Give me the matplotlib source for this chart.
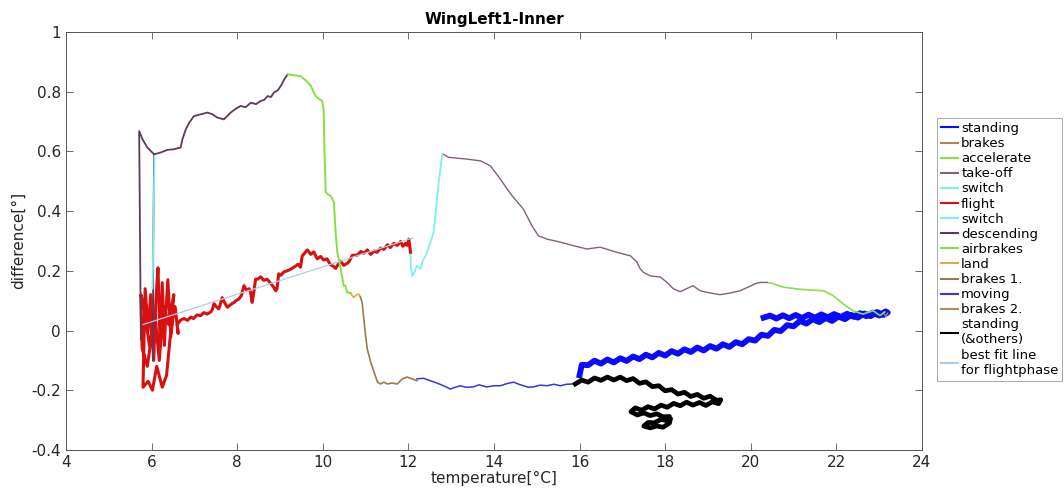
import numpy as np
import matplotlib
matplotlib.use('Agg')
import matplotlib.pyplot as plt

nan = np.nan

# phases in time order (temperature [°C], difference [°])
standing_x = [16.0, 16.05, 16.2, 16.35, 16.5, 16.65, 16.8, 16.95, 17.1, 17.25, 17.4, 17.55, 17.7, 17.85,
              18.0, 18.15, 18.3, 18.45, 18.6, 18.75, 18.9, 19.05, 19.2, 19.35, 19.5, 19.65, 19.8, 19.95,
              20.1, 20.25, 20.4, 20.55, 20.7, 20.85, 21.0, 21.15, 21.3, 21.45, 21.6, 21.75, 21.9, 22.05,
              22.2, 22.35, 22.5, 22.65, 22.8, 22.95, 23.1, 23.2, 23.15, 23.0, 22.85, 22.7, 22.55, 22.4,
              22.25, 22.1, 21.95, 21.8, 21.65, 21.5, 21.35, 21.2, 21.05, 20.9, 20.75, 20.6, 20.45, 20.3]
standing_y = [-0.15, -0.115, -0.116, -0.101, -0.111, -0.097, -0.107, -0.093, -0.102, -0.087, -0.096, -0.081,
              -0.09, -0.075, -0.084, -0.069, -0.078, -0.063, -0.072, -0.057, -0.067, -0.052, -0.061, -0.046,
              -0.055, -0.039, -0.046, -0.029, -0.034, -0.014, -0.018, 0.002, -0.002, 0.018, 0.014, 0.032,
              0.023, 0.038, 0.028, 0.042, 0.032, 0.047, 0.038, 0.052, 0.043, 0.057, 0.048, 0.062, 0.052, 0.06,
              0.064, 0.05, 0.06, 0.048, 0.058, 0.046, 0.056, 0.045, 0.055, 0.044, 0.054, 0.043, 0.053, 0.042,
              0.052, 0.041, 0.051, 0.04, 0.05, 0.043]

brakes_x = [23.2, 23.15, 23.1]
brakes_y = [0.058, 0.048, 0.06]

accelerate_x = [23.13, 23.02, 22.86, 22.62, 22.39, 22.16, 21.92, 21.7, 21.15, 20.76, 20.5, 20.38]
accelerate_y = [0.062, 0.05, 0.066, 0.055, 0.066, 0.089, 0.117, 0.133, 0.138, 0.145, 0.158, 0.161]

takeoff_x = [20.38, 20.22, 20.13, 19.98, 19.75, 19.5, 19.28, 18.97, 18.82, 18.65, 18.5, 18.35, 18.19, 18.05,
             17.89, 17.65, 17.49, 17.42, 17.34, 17.19, 16.87, 16.48, 16.17, 15.86, 15.55, 15.24, 15.04,
             14.89, 14.69, 14.39, 14.15, 13.92, 13.69, 13.37, 12.94, 12.82]
takeoff_y = [0.161, 0.161, 0.158, 0.148, 0.133, 0.125, 0.12, 0.128, 0.133, 0.15, 0.14, 0.13, 0.14, 0.16,
             0.179, 0.183, 0.195, 0.206, 0.229, 0.25, 0.262, 0.279, 0.273, 0.284, 0.296, 0.306, 0.317,
             0.35, 0.406, 0.457, 0.507, 0.551, 0.568, 0.574, 0.58, 0.59]

switch1_x = [12.79, 12.71, 12.63, 12.59, 12.52, 12.4, 12.34, 12.28, 12.2, 12.14, 12.09, 12.06, 12.05]
switch1_y = [0.59, 0.496, 0.384, 0.33, 0.296, 0.25, 0.235, 0.206, 0.217, 0.195, 0.183, 0.21, 0.262]

flight_x = [12.05, 12.01, 11.97, 11.93, 11.87, 11.82, 11.74, 11.66, 11.58, 11.51, 11.43, 11.35, 11.27, 11.2,
            11.12, 11.04, 10.96, 10.89, 10.8, 10.69, 10.62, 10.57, 10.49, 10.42, 10.38, 10.3, 10.24, 10.18,
            10.1, 10.02, 9.95, 9.87, 9.79, 9.72, 9.64, 9.57, 9.52, 9.48, 9.42, 9.37, 9.3, 9.25, 9.17, 9.09,
            9.02, 8.97, 8.93, 8.9, 8.84, 8.78, 8.7, 8.62, 8.55, 8.48, 8.43, 8.38, 8.35, 8.31, 8.28, 8.22,
            8.16, 8.1, 8.04, 7.97, 7.93, 7.86, 7.77, 7.7, 7.65, 7.6, 7.57, 7.5, 7.46, 7.42, 7.38, 7.3, 7.22,
            7.15, 7.06, 6.98, 6.92, 6.84, 6.76, 6.68,
            6.6, 6.62, 6.55, 6.5, 6.45, 6.38, 6.33, 6.3, 6.25, 6.2, 6.15, 6.1, 6.05, 5.98, 5.92, 5.85, 5.8,
            5.92, 6.02, 6.12, 6.25, 6.35, 6.45, 6.52, 6.4, 6.28, 6.18, 6.08, 5.95, 5.82, 5.75, 5.78, 5.9,
            6.0, 6.02]
flight_y = [0.262, 0.306, 0.285, 0.292, 0.282, 0.298, 0.285, 0.292, 0.278, 0.287, 0.272, 0.276, 0.262, 0.266,
            0.255, 0.27, 0.258, 0.265, 0.252, 0.252, 0.232, 0.225, 0.218, 0.232, 0.226, 0.208, 0.216, 0.22,
            0.24, 0.236, 0.248, 0.24, 0.263, 0.255, 0.27, 0.258, 0.25, 0.212, 0.222, 0.216, 0.21, 0.205, 0.2,
            0.196, 0.185, 0.19, 0.14, 0.133, 0.148, 0.158, 0.172, 0.168, 0.18, 0.172, 0.172, 0.12, 0.094,
            0.13, 0.14, 0.135, 0.15, 0.118, 0.105, 0.1, 0.094, 0.088, 0.078, 0.095, 0.11, 0.085, 0.072,
            0.082, 0.09, 0.07, 0.062, 0.055, 0.06, 0.05, 0.052, 0.04, 0.045, 0.034, 0.04, 0.035,
            0.02, -0.01, 0.08, 0.04, -0.02, 0.17, 0.05, -0.05, 0.16, -0.05, 0.21, 0.1, -0.1, 0.12, 0.0, 0.14,
            -0.19, -0.17, -0.2, -0.12, -0.19, -0.15, 0.0, 0.12, 0.02, 0.08, -0.1, 0.05, -0.05, 0.08, 0.12,
            -0.06, -0.12, -0.02, 0.1]

switch2_x = [6.02, 6.03, 6.04, 6.055, 6.07]
switch2_y = [0.14, 0.2, 0.3, 0.45, 0.585]

descending_x = [5.75, 5.71, 5.79, 5.9, 6.06, 6.04, 6.03, nan,
                6.06, 6.21, 6.37, 6.52, 6.68, 6.72, 6.8, 6.88, 6.99, 7.15, 7.31, 7.42, 7.54, 7.69, 7.85,
                7.96, 8.08, 8.2, 8.32, 8.44, 8.55, 8.63, 8.71, 8.79, 8.86, 8.95, 9.02, 9.1, 9.18]
descending_y = [-0.03, 0.668, 0.64, 0.613, 0.59, 0.3, -0.1, nan,
                0.59, 0.596, 0.605, 0.607, 0.613, 0.64, 0.674, 0.696, 0.718, 0.724, 0.73, 0.724, 0.713,
                0.707, 0.73, 0.742, 0.752, 0.748, 0.763, 0.758, 0.769, 0.772, 0.785, 0.782, 0.797, 0.805,
                0.819, 0.841, 0.858]

airbrakes_x = [9.18, 9.3, 9.48, 9.6, 9.72, 9.83, 9.92, 9.99, 10.02, 10.04, 10.07, 10.13, 10.19, 10.26,
               10.3, 10.34, 10.42, 10.49, 10.53, 10.57, 10.65]
airbrakes_y = [0.858, 0.855, 0.852, 0.838, 0.82, 0.785, 0.775, 0.768, 0.74, 0.6, 0.463, 0.455, 0.45, 0.43,
               0.33, 0.262, 0.206, 0.15, 0.15, 0.128, 0.125]

land_x = [10.65, 10.72, 10.8, 10.84, 10.88]
land_y = [0.125, 0.111, 0.12, 0.122, 0.112]

brakes1_x = [10.88, 10.92, 10.96, 11.0, 11.04, 11.12, 11.2, 11.28, 11.35, 11.43, 11.51, 11.62, 11.74,
             11.86, 11.97, 12.09, 12.2]
brakes1_y = [0.112, 0.094, 0.038, -0.017, -0.062, -0.106, -0.14, -0.173, -0.179, -0.173, -0.179, -0.176,
             -0.179, -0.162, -0.156, -0.162, -0.168]

moving_x = [12.2, 12.35, 12.51, 12.65, 12.82, 12.98, 13.1, 13.21, 13.35, 13.52, 13.65, 13.83, 14.0, 14.15,
            14.3, 14.46, 14.58, 14.69, 14.8, 14.92, 15.08, 15.24, 15.4, 15.55, 15.7, 15.86]
moving_y = [-0.162, -0.16, -0.168, -0.175, -0.185, -0.196, -0.19, -0.185, -0.19, -0.189, -0.182, -0.189,
            -0.185, -0.185, -0.178, -0.173, -0.18, -0.185, -0.19, -0.189, -0.183, -0.185, -0.18, -0.185,
            -0.18, -0.179]

brakes2_x = [15.86, 15.92, 15.98]
brakes2_y = [-0.179, -0.176, -0.178]

others_x = [15.9, 16.05, 16.2, 16.35, 16.5, 16.65, 16.8, 16.95, 17.1, 17.25, 17.4, 17.55, 17.7, 17.85,
            18.0, 18.15, 18.3, 18.45, 18.6, 18.75, 18.9, 19.05, 19.2, 19.3, 19.25,
            19.1, 18.95, 18.8, 18.65, 18.5, 18.35, 18.2, 18.05, 17.9, 17.75, 17.6, 17.45, 17.3, 17.2,
            17.35, 17.5, 17.65, 17.8, 17.95, 18.1, 18.05, 17.9, 17.75, 17.6, 17.5, 17.65, 17.8, 17.95,
            18.1, 18.12]
others_y = [-0.179, -0.166, -0.173, -0.159, -0.167, -0.156, -0.166, -0.156, -0.168, -0.161, -0.177, -0.172,
            -0.188, -0.185, -0.202, -0.198, -0.213, -0.207, -0.221, -0.214, -0.227, -0.22, -0.234, -0.232,
            -0.245, -0.239, -0.251, -0.241, -0.25, -0.24, -0.252, -0.244, -0.257, -0.25, -0.263, -0.255,
            -0.267, -0.259, -0.272, -0.283, -0.276, -0.285, -0.279, -0.289, -0.288, -0.302, -0.298, -0.309,
            -0.308, -0.32, -0.326, -0.32, -0.324, -0.31, -0.298]

fit_x = [5.8, 12.1]
fit_y = [0.02, 0.31]

fig = plt.figure(figsize=(10.64, 4.88), dpi=100)
ax = fig.add_axes([0.062, 0.078, 0.8045, 0.8566])

ax.plot(standing_x, standing_y, color='#0a0aff', lw=4.2, label='standing')
ax.plot(brakes_x, brakes_y, color='#a88a5a', lw=1.0, label='brakes')
ax.plot(accelerate_x, accelerate_y, color='#88e04a', lw=1.2, label='accelerate')
ax.plot(takeoff_x, takeoff_y, color='#82607f', lw=1.0, label='take-off')
ax.plot(switch1_x, switch1_y, color='#7ff0f0', lw=1.3, label='switch')
ax.plot(flight_x, flight_y, color='#d81010', lw=2.2, label='flight')
ax.plot(descending_x, descending_y, color='#5e3a58', lw=1.3, label='descending')
ax.plot(switch2_x, switch2_y, color='#7ff0f0', lw=1.3, label='switch')
ax.plot(airbrakes_x, airbrakes_y, color='#84e046', lw=1.4, label='airbrakes')
ax.plot(land_x, land_y, color='#d4b040', lw=1.2, label='land')
ax.plot(brakes1_x, brakes1_y, color='#9a7a50', lw=1.2, label='brakes 1.')
ax.plot(moving_x, moving_y, color='#3535e0', lw=1.1, label='moving')
ax.plot(brakes2_x, brakes2_y, color='#a89060', lw=1.2, label='brakes 2.')
ax.plot(others_x, others_y, color='black', lw=3.4, label='standing\n(&others)')
ax.plot(fit_x, fit_y, color='#b4cce0', lw=0.9, label='best fit line\nfor flightphase')

ax.set_xlim(4, 24)
ax.set_ylim(-0.4, 1)
ax.set_xticks(np.arange(4, 25, 2))
ax.set_yticks([-0.4, -0.2, 0, 0.2, 0.4, 0.6, 0.8, 1])
ax.set_yticklabels(['-0.4', '-0.2', '0', '0.2', '0.4', '0.6', '0.8', '1'])
ax.tick_params(direction='in', top=True, right=True, length=5, width=0.6,
               labelsize=11, colors='#555555', labelcolor='#262626')
for s in ax.spines.values():
    s.set_color('#555555')
    s.set_linewidth(0.7)

ax.set_title('WingLeft1-Inner', fontsize=11, fontweight='bold', pad=6)
ax.set_xlabel('temperature[°C]', fontsize=11, color='#262626', labelpad=1)
ax.set_ylabel('difference[°]', fontsize=11, color='#262626', labelpad=4)

# legend order as in the original figure
handles, labels = ax.get_legend_handles_labels()
order = [0, 1, 2, 3, 4, 5, 7, 6, 8, 9, 10, 11, 12, 13, 14]
leg = ax.legend([handles[i] for i in order], [labels[i] for i in order],
                loc='upper left', bbox_to_anchor=(0.881, 0.758), bbox_transform=fig.transFigure,
                fontsize=9.5, fancybox=False, edgecolor='#aaaaaa', framealpha=1,
                handlelength=1.3, handletextpad=0.2, labelspacing=0.16, borderpad=0.3,
                borderaxespad=0)
for line in leg.get_lines():
    line.set_linewidth(1.5)
leg.get_frame().set_linewidth(0.7)

fig.savefig('out.png', dpi=100)
